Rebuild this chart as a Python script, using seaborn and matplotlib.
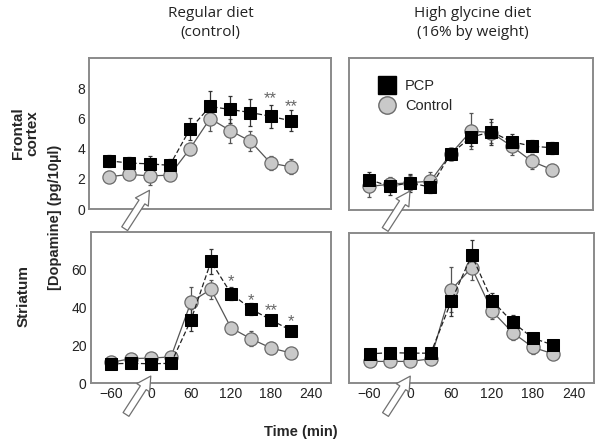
import numpy as np
import pandas as pd
import matplotlib
matplotlib.use("Agg")
import matplotlib.pyplot as plt
import matplotlib.ticker as mticker
from matplotlib.lines import Line2D
import seaborn as sns

# ---------------------------------------------------------------------------
# data
# ---------------------------------------------------------------------------
time_min = [-60, -30, 0, 30, 60, 90, 120, 150, 180, 210]

fc_reg_pcp = [3.2, 3.05, 3.0, 2.9, 5.3, 6.8, 6.6, 6.4, 6.15, 5.85]
fc_reg_pcp_err = [0.4, 0.4, 0.5, 0.45, 0.75, 1.0, 0.9, 0.9, 0.75, 0.7]
fc_reg_ctl = [2.15, 2.3, 2.2, 2.25, 4.0, 6.0, 5.2, 4.5, 3.05, 2.8]
fc_reg_ctl_err = [0.35, 0.35, 0.6, 0.35, 0.4, 0.8, 0.8, 0.65, 0.45, 0.5]

fc_gly_pcp = [2.0, 1.55, 1.8, 1.5, 3.7, 4.8, 5.15, 4.5, 4.2, 4.1]
fc_gly_pcp_err = [0.5, 0.55, 0.6, 0.4, 0.4, 0.6, 0.85, 0.5, 0.4, 0.4]
fc_gly_ctl = [1.55, 1.7, 1.8, 1.9, 3.7, 5.2, 5.1, 4.2, 3.2, 2.65]
fc_gly_ctl_err = [0.7, 0.5, 0.5, 0.6, 0.4, 1.2, 0.7, 0.6, 0.5, 0.4]

st_reg_pcp = [10.3, 10.5, 10.3, 10.5, 33.5, 64.5, 47.5, 39.3, 33.5, 27.9]
st_reg_pcp_err = [1.5, 1.5, 2.0, 1.5, 6.0, 6.5, 3.5, 3.0, 2.5, 2.5]
st_reg_ctl = [11.0, 13.0, 13.3, 13.9, 43.0, 49.8, 29.3, 23.5, 18.6, 16.0]
st_reg_ctl_err = [1.5, 1.5, 1.5, 1.5, 8.0, 5.0, 3.0, 4.0, 3.0, 2.0]

st_gly_pcp = [15.6, 16.3, 16.0, 16.0, 43.7, 68.2, 44.0, 32.6, 24.0, 20.3]
st_gly_pcp_err = [1.5, 1.5, 1.5, 1.5, 8.0, 8.0, 4.0, 3.5, 3.0, 2.5]
st_gly_ctl = [11.6, 11.6, 11.6, 13.0, 49.8, 61.6, 38.4, 27.0, 19.1, 15.6]
st_gly_ctl_err = [1.0, 1.0, 1.0, 1.5, 12.0, 6.5, 4.0, 4.0, 3.5, 2.0]

# significance marks: (time, y of the asterisks, text)
fc_reg_stars = [(180, 7.6, "**"), (210, 7.1, "**")]
st_reg_stars = [(120, 56, "*"), (150, 46, "*"), (180, 41, "**"), (210, 35, "*")]

col_titles = ["Regular diet\n(control)", "High glycine diet\n(16% by weight)"]

# ---------------------------------------------------------------------------
# style
# ---------------------------------------------------------------------------
sns.set_style("white")
plt.rcParams["font.family"] = ["Liberation Sans", "DejaVu Sans"]

edge_gray = "#8a8a8a"
ctl_face = "#c9c9c9"
ctl_edge = "#6a6a6a"

fig = plt.figure(figsize=(6.02, 4.44), dpi=100)
positions = [
    [0.148, 0.529, 0.402, 0.340],
    [0.580, 0.527, 0.405, 0.342],
    [0.151, 0.137, 0.399, 0.340],
    [0.580, 0.137, 0.407, 0.338],
]
axes = [fig.add_axes(p) for p in positions]

panels = [
    (fc_reg_pcp, fc_reg_pcp_err, fc_reg_ctl, fc_reg_ctl_err, fc_reg_stars, "fc"),
    (fc_gly_pcp, fc_gly_pcp_err, fc_gly_ctl, fc_gly_ctl_err, [], "fc"),
    (st_reg_pcp, st_reg_pcp_err, st_reg_ctl, st_reg_ctl_err, st_reg_stars, "st"),
    (st_gly_pcp, st_gly_pcp_err, st_gly_ctl, st_gly_ctl_err, [], "st"),
]

for i, (ax, (pcp, pcp_err, ctl, ctl_err, stars, region)) in enumerate(zip(axes, panels)):
    df = pd.DataFrame({
        "time": time_min * 2,
        "value": ctl + pcp,
        "group": ["Control"] * len(time_min) + ["PCP"] * len(time_min),
    })

    # error bars
    ax.errorbar(time_min, ctl, yerr=ctl_err, fmt="none", ecolor="#555555",
                elinewidth=0.9, capsize=1.5, capthick=0.9, zorder=2)
    ax.errorbar(time_min, pcp, yerr=pcp_err, fmt="none", ecolor="#333333",
                elinewidth=0.9, capsize=1.5, capthick=0.9, zorder=2)

    # lines + markers
    sns.lineplot(data=df[df["group"] == "Control"], x="time", y="value",
                 color="#555555", lw=0.9, marker="o", markersize=9.5,
                 markerfacecolor=ctl_face, markeredgecolor=ctl_edge,
                 markeredgewidth=0.9, ax=ax, zorder=3, legend=False)
    sns.lineplot(data=df[df["group"] == "PCP"], x="time", y="value",
                 color="#222222", lw=0.9, linestyle=(0, (4, 2)), marker="s",
                 markersize=9, markerfacecolor="black", markeredgecolor="black",
                 ax=ax, zorder=4, legend=False)

    ystep = 0.3 if region == "fc" else 2.4
    for tx, ty, s in stars:
        ax.text(tx, ty - ystep, s, ha="center", va="center", fontsize=12,
                color="#666666")

    ax.set_xlim(-90, 270)
    ax.xaxis.set_major_locator(mticker.MultipleLocator(60))
    ax.xaxis.set_minor_locator(mticker.MultipleLocator(30))
    if region == "fc":
        ax.set_ylim(0, 10)
        ax.yaxis.set_major_locator(mticker.FixedLocator([0, 2, 4, 6, 8]))
        ax.yaxis.set_minor_locator(mticker.MultipleLocator(1))
    else:
        ax.set_ylim(0, 80)
        ax.yaxis.set_major_locator(mticker.FixedLocator([0, 20, 40, 60]))
        ax.yaxis.set_minor_locator(mticker.MultipleLocator(10))

    ax.tick_params(which="both", direction="in", color="#555555", width=0.8,
                   length=3, labelsize=10, labelcolor="#222222", pad=3)
    ax.set_xlabel("")
    ax.set_ylabel("")
    if i < 2:
        ax.tick_params(labelbottom=False)
    if i % 2 == 1:
        ax.tick_params(labelleft=False)

    for sp in ax.spines.values():
        sp.set_visible(True)
        sp.set_color(edge_gray)
        sp.set_linewidth(1.4)

    # hollow arrow pointing at t = 0
    tip_y = 1.4 if region == "fc" else 5.0
    ax.annotate("", xy=(2, tip_y), xycoords="data",
                xytext=(-20, -31), textcoords="offset points",
                arrowprops=dict(arrowstyle="simple,head_length=1.0,head_width=1.1,tail_width=0.5",
                                fc="white", ec="#707070", lw=0.9),
                annotation_clip=False, zorder=6)

# legend in the top-right panel
handles = [
    Line2D([], [], ls="none", marker="s", markersize=12.5, markerfacecolor="black",
           markeredgecolor="black"),
    Line2D([], [], ls="none", marker="o", markersize=12.5, markerfacecolor=ctl_face,
           markeredgecolor=ctl_edge),
]
axes[1].legend(handles, ["PCP", "Control"], loc="upper left", frameon=False,
               fontsize=10.5, handletextpad=0.2, borderaxespad=0.3,
               labelspacing=0.4, bbox_to_anchor=(0.055, 0.93))

# column titles
for xc, title in zip([0.350, 0.785], col_titles):
    fig.text(xc, 0.948, title, ha="center", va="center", fontsize=11,
             family=["Open Sans", "DejaVu Sans"], color="#222222",
             linespacing=1.35)

# row labels and shared axis labels
fig.text(0.042, 0.70, "Frontal\ncortex", rotation=90, ha="center", va="center",
         fontsize=11, fontweight="bold", linespacing=1.05)
fig.text(0.040, 0.333, "Striatum", rotation=90, ha="center", va="center",
         fontsize=11, fontweight="bold")
fig.text(0.092, 0.51, "[Dopamine] (pg/10µl)", rotation=90, ha="center",
         va="center", fontsize=10.5, fontweight="bold")
fig.text(0.500, 0.028, "Time (min)", ha="center", va="center", fontsize=10.5,
         fontweight="bold")

fig.savefig("out.png", dpi=100)
